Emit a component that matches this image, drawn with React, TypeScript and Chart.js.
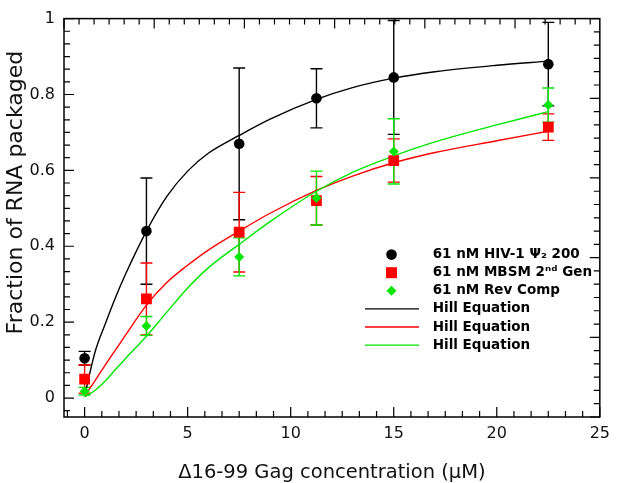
import React, { useEffect, useRef } from "react";
import { Chart, registerables } from "chart.js";

Chart.register(...registerables);

// ---- data ----
const gagConcentration = [0, 3, 7.5, 11.25, 15, 22.5];
const hivMean = [0.105, 0.44, 0.67, 0.79, 0.845, 0.88];
const hivErr = [0.018, 0.14, 0.2, 0.078, 0.15, 0.11];
const mbsmMean = [0.05, 0.261, 0.437, 0.52, 0.626, 0.714];
const mbsmErr = [0.037, 0.095, 0.105, 0.064, 0.057, 0.035];
const revMean = [0.018, 0.19, 0.372, 0.527, 0.65, 0.772];
const revErr = [0.01, 0.025, 0.05, 0.071, 0.086, 0.045];

const fitX = [0, 0.5, 1, 1.5, 2, 3, 4, 5, 6, 7.5, 9, 11.25, 13, 15, 17, 20, 22.5];
const hivFit = [0.005, 0.12, 0.195, 0.265, 0.328, 0.44, 0.532, 0.598, 0.645, 0.692, 0.735, 0.787, 0.818, 0.843, 0.86, 0.877, 0.888];
const mbsmFit = [0.005, 0.045, 0.087, 0.127, 0.167, 0.245, 0.305, 0.35, 0.39, 0.44, 0.487, 0.547, 0.585, 0.62, 0.647, 0.678, 0.703];
const revFit = [0.003, 0.02, 0.045, 0.075, 0.105, 0.163, 0.227, 0.29, 0.343, 0.405, 0.465, 0.545, 0.595, 0.638, 0.675, 0.72, 0.755];

const seriesLabels = [
  "61 nM HIV-1 Ψ₂ 200",
  "61 nM MBSM 2ⁿᵈ Gen",
  "61 nM Rev Comp",
  "Hill Equation",
  "Hill Equation",
  "Hill Equation",
];

const xTickValues = [0, 5, 10, 15, 20, 25];
const xTickLabels = ["0", "5", "10", "15", "20", "25"];
const yTickValues = [0, 0.2, 0.4, 0.6, 0.8, 1];
const yTickLabels = ["0", "0.2", "0.4", "0.6", "0.8", "1"];

const xTitle = "Δ16-99 Gag concentration (μM)";
const yTitle = "Fraction of RNA packaged";

const BLACK = "#000000";
const RED = "#ff0000";
const GREEN = "#00e600";

const pts = (xs: number[], ys: number[]) => xs.map((x, i) => ({ x, y: ys[i] }));

function drawTickSet(
  ctx: CanvasRenderingContext2D,
  scale: any,
  majorStep: number,
  div: number,
  side: "bottom" | "top" | "left" | "right",
  area: any
) {
  const minor = majorStep / div;
  const kStart = Math.ceil(scale.min / minor - 1e-6);
  const kEnd = Math.floor(scale.max / minor + 1e-6);
  ctx.beginPath();
  for (let k = kStart; k <= kEnd; k++) {
    const v = k * minor;
    const p = scale.getPixelForValue(v);
    const len = k % div === 0 ? 10 : 6;
    if (side === "bottom") {
      ctx.moveTo(p, area.bottom);
      ctx.lineTo(p, area.bottom - len);
    } else if (side === "top") {
      ctx.moveTo(p, area.top);
      ctx.lineTo(p, area.top + len);
    } else if (side === "left") {
      ctx.moveTo(area.left, p);
      ctx.lineTo(area.left + len, p);
    } else {
      ctx.moveTo(area.right, p);
      ctx.lineTo(area.right - len, p);
    }
  }
  ctx.stroke();
}

const decorPlugin = {
  id: "decor",
  beforeDatasetsDraw(chart: any) {
    const { ctx, chartArea: area } = chart;
    const xs = chart.scales.x;
    const ys = chart.scales.y;
    ctx.save();
    ctx.beginPath();
    ctx.rect(area.left, area.top - 1, area.right - area.left, area.bottom - area.top + 1);
    ctx.clip();
    chart.data.datasets.forEach((ds: any) => {
      if (!ds.errors) return;
      ctx.strokeStyle = ds.borderColor;
      ctx.lineWidth = 1.4;
      ds.data.forEach((d: any, j: number) => {
        const e = ds.errors[j];
        const px = xs.getPixelForValue(d.x);
        const pt = ys.getPixelForValue(d.y + e);
        const pb = ys.getPixelForValue(d.y - e);
        ctx.beginPath();
        ctx.moveTo(px, pt);
        ctx.lineTo(px, pb);
        ctx.moveTo(px - 6, pt);
        ctx.lineTo(px + 6, pt);
        ctx.moveTo(px - 6, pb);
        ctx.lineTo(px + 6, pb);
        ctx.stroke();
      });
    });
    ctx.restore();
  },
  afterDraw(chart: any) {
    const { ctx, chartArea: area } = chart;
    ctx.save();
    // frame
    ctx.strokeStyle = "#000";
    ctx.lineWidth = 1.5;
    ctx.strokeRect(area.left, area.top, area.right - area.left, area.bottom - area.top);
    ctx.lineWidth = 1.2;
    drawTickSet(ctx, chart.scales.x, 5, 6, "bottom", area);
    drawTickSet(ctx, chart.scales.x2, 5, 6, "top", area);
    drawTickSet(ctx, chart.scales.y, 0.2, 6, "left", area);
    drawTickSet(ctx, chart.scales.y2, 0.2, 6, "right", area);

    // y title
    ctx.save();
    ctx.translate(22, area.top + 174);
    ctx.rotate(-Math.PI / 2);
    ctx.fillStyle = "#111";
    ctx.font = "22px 'DejaVu Sans'";
    ctx.textAlign = "center";
    ctx.textBaseline = "alphabetic";
    ctx.fillText(yTitle, 0, 0);
    ctx.restore();

    // legend
    const lineX0 = area.left + 301;
    const lineX1 = area.left + 355;
    const symX = area.left + 327.5;
    const textX = area.left + 368.7;
    const y0 = area.top + 236;
    const step = 18.1;
    chart.data.datasets.forEach((ds: any, i: number) => {
      const y = y0 + i * step;
      const c = ds.borderColor;
      if (ds.showLine === false) {
        ctx.fillStyle = c;
        ctx.beginPath();
        if (ds.pointStyle === "circle") {
          ctx.arc(symX, y, 5.3, 0, Math.PI * 2);
        } else if (ds.pointStyle === "rect") {
          ctx.rect(symX - 5.5, y - 5.5, 11, 11);
        } else {
          ctx.moveTo(symX, y - 5);
          ctx.lineTo(symX + 5, y);
          ctx.lineTo(symX, y + 5);
          ctx.lineTo(symX - 5, y);
          ctx.closePath();
        }
        ctx.fill();
      } else {
        ctx.strokeStyle = c;
        ctx.lineWidth = 1.4;
        ctx.beginPath();
        ctx.moveTo(lineX0, y);
        ctx.lineTo(lineX1, y);
        ctx.stroke();
      }
      ctx.fillStyle = "#000";
      ctx.font = "bold 13.5px 'DejaVu Sans'";
      ctx.textAlign = "left";
      ctx.textBaseline = "middle";
      ctx.fillText(ds.label, textX, y);
    });
    ctx.restore();
  },
};

export default function App() {
  const canvasRef = useRef<HTMLCanvasElement | null>(null);

  useEffect(() => {
    const canvas = canvasRef.current;
    if (!canvas) return;
    const pointSet = (label: string, ys: number[], errs: number[], color: string, style: string, radius: number, order: number) => ({
      label,
      data: pts(gagConcentration, ys),
      errors: errs,
      showLine: false,
      borderColor: color,
      backgroundColor: color,
      pointStyle: style,
      pointRadius: radius,
      pointBorderWidth: 0,
      pointHoverRadius: radius,
      order,
    });
    const fitSet = (label: string, ys: number[], color: string, order: number) => ({
      label,
      data: pts(fitX, ys),
      showLine: true,
      borderColor: color,
      backgroundColor: color,
      borderWidth: 1.4,
      pointRadius: 0,
      cubicInterpolationMode: "monotone",
      fill: false,
      order,
    });

    const chart = new Chart(canvas, {
      type: "line",
      data: {
        datasets: [
          pointSet(seriesLabels[0], hivMean, hivErr, BLACK, "circle", 5.3, 3),
          pointSet(seriesLabels[1], mbsmMean, mbsmErr, RED, "rect", 7.6, 2),
          pointSet(seriesLabels[2], revMean, revErr, GREEN, "rectRot", 5, 1),
          fitSet(seriesLabels[3], hivFit, BLACK, 6),
          fitSet(seriesLabels[4], mbsmFit, RED, 5),
          fitSet(seriesLabels[5], revFit, GREEN, 4),
        ] as any,
      },
      options: {
        animation: false,
        responsive: false,
        layout: { padding: { top: 9, right: 9, left: 0, bottom: 0 } },
        plugins: {
          legend: { display: false },
          tooltip: { enabled: false },
        },
        scales: {
          x: {
            type: "linear",
            position: "bottom",
            min: -1,
            max: 25,
            grid: { display: false, drawTicks: false },
            border: { display: false },
            afterBuildTicks: (s: any) => {
              s.ticks = xTickValues.map((v) => ({ value: v }));
            },
            afterFit: (s: any) => {
              s.height = 66;
            },
            ticks: {
              autoSkip: false,
              maxRotation: 0,
              padding: 7,
              color: "#111",
              font: { family: "'DejaVu Sans'", size: 16 },
              callback: (v: any) => xTickLabels[xTickValues.indexOf(Number(v))],
            },
            title: {
              display: true,
              text: xTitle,
              color: "#111",
              font: { family: "'DejaVu Sans'", size: 19.5, lineHeight: 1 },
              padding: { top: 0, bottom: 0 },
            },
          },
          x2: {
            type: "linear",
            position: "top",
            display: false,
            min: 0,
            max: 29.7,
          },
          y: {
            type: "linear",
            position: "left",
            min: -0.05,
            max: 1,
            grid: { display: false, drawTicks: false },
            border: { display: false },
            afterBuildTicks: (s: any) => {
              s.ticks = yTickValues.map((v) => ({ value: v }));
            },
            afterFit: (s: any) => {
              s.width = 64;
            },
            ticks: {
              autoSkip: false,
              padding: 9,
              color: "#111",
              font: { family: "'DejaVu Sans'", size: 16 },
              callback: (v: any) => yTickLabels[yTickValues.indexOf(Number(v))],
            },
          },
          y2: {
            type: "linear",
            position: "right",
            display: false,
            min: 0,
            max: 1,
          },
        },
      } as any,
      plugins: [decorPlugin],
    });
    return () => chart.destroy();
  }, []);

  return (
    <div style={{ position: "fixed", left: 0, top: 0, width: 617, height: 483, background: "#fff" }}>
      <canvas ref={canvasRef} width={617} height={483} style={{ display: "block" }} />
    </div>
  );
}
